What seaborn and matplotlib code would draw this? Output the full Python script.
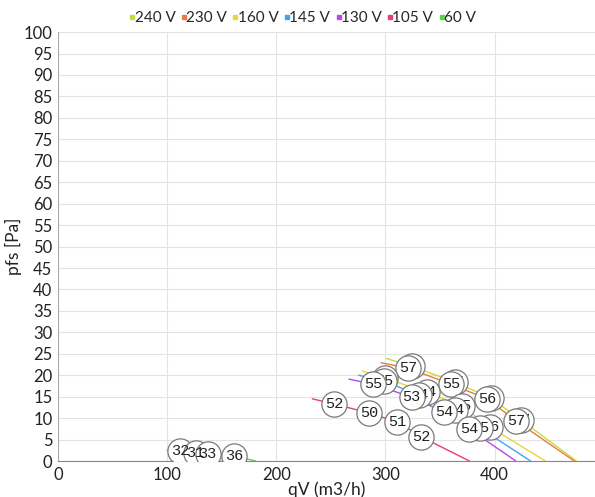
import matplotlib
matplotlib.use("Agg")
import matplotlib.pyplot as plt
from matplotlib.lines import Line2D
import numpy as np
import pandas as pd
import seaborn as sb

# curbe ventilator - debit / presiune, cu nivel sonor pe puncte
serii = ["240 V", "230 V", "160 V", "145 V", "130 V", "105 V", "60 V"]
culori = ["#c3dc3c", "#ec7a44", "#e8d63e", "#3fa6ee", "#bd44ee", "#ee3b74", "#55d646"]

qv_240 = [301, 324, 363.5, 396.5, 424, 475]
pf_240 = [23.9, 22.1, 18.4, 14.7, 9.6, 0]
db_240 = [None, 57, 55, 56, 57, None]

qv_230 = [296, 320.5, 360, 393, 420, 473]
pf_230 = [22.9, 21.7, 17.9, 14.5, 9.3, 0]
db_230 = [None, 57, 55, 56, 57, None]

qv_160 = [279, 300, 338, 370, 396, 446.5]
pf_160 = [21.0, 19.3, 16.0, 12.8, 7.9, 0]
db_160 = [None, 55, 54, 55, 56, None]

qv_145 = [275.5, 298.5, 331, 363.5, 386.5, 433]
pf_145 = [20.0, 18.6, 15.4, 11.9, 7.7, 0]
db_145 = [None, 55, 54, 54, 55, None]

qv_130 = [266.5, 288.5, 324, 353.5, 376.5, 419.5]
pf_130 = [19.1, 17.9, 14.9, 11.4, 7.5, 0]
db_130 = [None, 55, 53, 54, 54, None]

qv_105 = [233, 253, 285, 311, 333, 377]
pf_105 = [14.5, 13.3, 11.2, 9.1, 5.6, 0]
db_105 = [None, 52, 50, 51, 52, None]

qv_60 = [100, 112, 126, 137, 161, 181]
pf_60 = [2.6, 2.3, 1.9, 1.6, 1.2, 0]
db_60 = [None, 32, 31, 33, 36, None]

qv = [qv_240, qv_230, qv_160, qv_145, qv_130, qv_105, qv_60]
pf = [pf_240, pf_230, pf_160, pf_145, pf_130, pf_105, pf_60]
db = [db_240, db_230, db_160, db_145, db_130, db_105, db_60]

randuri = []
for i in range(len(serii)):
    for j in range(len(qv[i])):
        randuri.append({"serie": serii[i], "qV": qv[i][j], "pfs": pf[i][j], "dB": db[i][j], "ord": j})
t = pd.DataFrame(randuri)

sb.set_style("whitegrid")
plt.rcParams["font.family"] = ["Lato", "DejaVu Sans"]

fig = plt.figure(figsize=(5.95, 4.97), dpi=100)
ax = fig.add_axes([0.0975, 0.0724, 0.9025, 0.863])

sb.lineplot(data=t, x="qV", y="pfs", hue="serie", hue_order=serii, palette=culori,
            sort=False, estimator=None, linewidth=1, legend=False, ax=ax)

# cercuri cu nivel sonor
for i in range(len(serii)):
    tt = t[(t["serie"] == serii[i]) & t["dB"].notna()]
    ax.scatter(tt["qV"], tt["pfs"], s=330, c="white", edgecolors="#7a7a7a", linewidths=0.9, zorder=3 + i)
    for k in range(len(tt)):
        ax.text(tt["qV"].iloc[k], tt["pfs"].iloc[k], str(int(tt["dB"].iloc[k])),
                ha="center", va="center", fontsize=11, family="Liberation Mono",
                color="#222222", zorder=3 + i)

ax.set_xlim(0, 492)
ax.set_ylim(0, 100)
ax.set_xticks([0, 100, 200, 300, 400])
ax.set_yticks(np.arange(0, 101, 5))
ax.tick_params(axis="both", labelsize=12, length=3, color="#555555", pad=1, labelcolor="#222222")
ax.grid(color="#e3e3e3", linewidth=0.8)
for s in ["top", "right"]:
    ax.spines[s].set_visible(False)
ax.spines["left"].set_color("#aaaaaa")
ax.spines["bottom"].set_color("#888888")
ax.set_xlabel("qV (m3/h)", fontsize=12.5, labelpad=-1, color="#222222")
ax.set_ylabel("pfs [Pa]", fontsize=12.5, labelpad=1, color="#222222")

handles = [Line2D([0], [0], marker="s", linestyle="", markersize=3, color=c) for c in culori]
fig.legend(handles, serii, loc="center", bbox_to_anchor=(0.508, 0.963), ncol=7, frameon=False,
           fontsize=11, handletextpad=-0.1, columnspacing=0.3, handlelength=0.5)

fig.savefig("out.png", dpi=100)
